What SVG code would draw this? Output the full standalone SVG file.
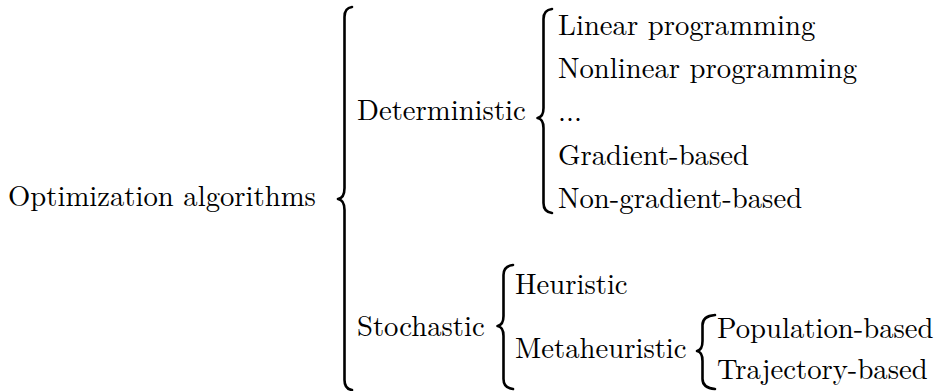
<svg xmlns="http://www.w3.org/2000/svg" width="939" height="391" viewBox="0 0 939 391">
<style>
.brace{fill:none;stroke:#000;stroke-width:2.6;stroke-linecap:round;stroke-linejoin:round}
</style>
<rect width="939" height="391" fill="#fff"/>
<g id="connectors">
<path class="brace" d="M352,7 Q344.5,8 344.5,17 L344.5,188 Q344.5,198 338,199 Q344.5,200 344.5,210 L344.5,380 Q344.5,389 352,390"/>
<path class="brace" d="M552,9 Q543.5,10 543.5,19 L543.5,108 Q543.5,117 537.5,118 Q543.5,119 543.5,128 L543.5,203 Q543.5,212 552,213"/>
<path class="brace" d="M513,265 Q503.5,266 503.5,275 L503.5,316 Q503.5,325 497.5,326 Q503.5,327 503.5,336 L503.5,379 Q503.5,388 513,389"/>
<path class="brace" d="M715,315 Q702.5,316 702.5,325 L702.5,341 Q702.5,350 697,351 Q702.5,352 702.5,361 L702.5,379 Q702.5,388 715,389"/>
</g>
<g font-family="Latin Modern Roman, Liberation Serif, serif" font-size="28.7" fill="#000">
<g id="root"><text x="8" y="206">Optimization algorithms</text></g>
<g id="deterministic"><text x="357" y="119.5">Deterministic</text></g>
<g id="linear"><text x="558" y="35.2">Linear programming</text></g>
<g id="nonlinear"><text x="558" y="78.3">Nonlinear programming</text></g>
<g id="ellipsis"><text x="558" y="121.4">...</text></g>
<g id="gradient"><text x="558" y="164.5">Gradient-based</text></g>
<g id="nongradient"><text x="558" y="207.6">Non-gradient-based</text></g>
<g id="stochastic"><text x="357" y="336">Stochastic</text></g>
<g id="heuristic"><text x="515" y="294">Heuristic</text></g>
<g id="metaheuristic"><text x="515" y="357.5">Metaheuristic</text></g>
<g id="population"><text x="717" y="338">Population-based</text></g>
<g id="trajectory"><text x="717" y="379">Trajectory-based</text></g>
</g>
</svg>
